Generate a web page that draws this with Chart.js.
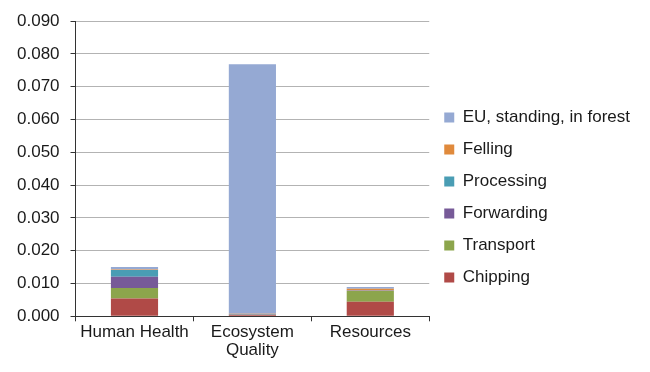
<!DOCTYPE html>
<html>
<head>
<meta charset="utf-8">
<script src="https://cdn.jsdelivr.net/npm/chart.js@4/dist/chart.umd.min.js"></script>
<style>
  html, body { margin: 0; padding: 0; background: #ffffff; }
  #wrap { width: 650px; height: 372px; }
</style>
</head>
<body>
<div id="wrap"><canvas id="c" width="650" height="372"></canvas></div>
<script>
// Impact categories on the x axis
const categories = ['Human Health', ['Ecosystem', 'Quality'], 'Resources'];

// Contribution of each process step (stacked, bottom to top)
const chipping   = [0.0054, 0.0004, 0.0044];
const transport  = [0.0032, 0.0001, 0.0033];
const forwarding = [0.0035, 0.0001, 0.0001];
const processing = [0.0020, 0.0001, 0.0001];
const felling    = [0.0002, 0.0001, 0.0005];
const euStanding = [0.0007, 0.0761, 0.0005];

// Y axis range
const yMin = 0;
const yMax = 0.09;
const yStep = 0.01;

const FONT = { family: '"Liberation Sans", Arial, Helvetica, sans-serif', size: 17 };
const TEXT = '#1a1a1a';

const ds = (label, data, color) => ({
  label, data,
  backgroundColor: color,
  borderWidth: 0,
  categoryPercentage: 1.0,
  barPercentage: 0.4
});

new Chart(document.getElementById('c'), {
  type: 'bar',
  data: {
    labels: categories,
    datasets: [
      ds('Chipping', chipping, '#b04a47'),
      ds('Transport', transport, '#8ca54c'),
      ds('Forwarding', forwarding, '#775a98'),
      ds('Processing', processing, '#4a9db4'),
      ds('Felling', felling, '#e08a3c'),
      ds('EU, standing, in forest', euStanding, '#95a9d3')
    ]
  },
  options: {
    responsive: false,
    animation: false,
    devicePixelRatio: 1,
    layout: { padding: { left: 6, top: 9, right: 10, bottom: 11 } },
    plugins: {
      tooltip: { enabled: false },
      legend: {
        position: 'right',
        reverse: true,
        maxWidth: 260,
        title: {
          display: true,
          text: ' ',
          font: { size: 10 },
          padding: { top: 4, bottom: 9 }
        },
        labels: {
          font: FONT,
          color: TEXT,
          boxWidth: 10,
          boxHeight: 10,
          padding: 15
        }
      }
    },
    scales: {
      x: {
        stacked: true,
        grid: {
          display: true,
          offset: true,
          drawOnChartArea: false,
          tickLength: 5,
          color: '#333333',
          tickColor: '#333333'
        },
        border: { display: true, color: '#333333', width: 1 },
        ticks: {
          font: { family: FONT.family, size: 17, lineHeight: 1.05 },
          color: TEXT,
          padding: 2,
          maxRotation: 0
        }
      },
      y: {
        stacked: true,
        min: yMin,
        max: yMax,
        grid: {
          color: '#b3b3b3',
          tickColor: '#333333',
          tickLength: 5
        },
        border: { display: true, color: '#333333', width: 1 },
        ticks: {
          stepSize: yStep,
          font: FONT,
          color: TEXT,
          padding: 11,
          callback: v => v.toFixed(3)
        }
      }
    }
  }
});
</script>
</body>
</html>
